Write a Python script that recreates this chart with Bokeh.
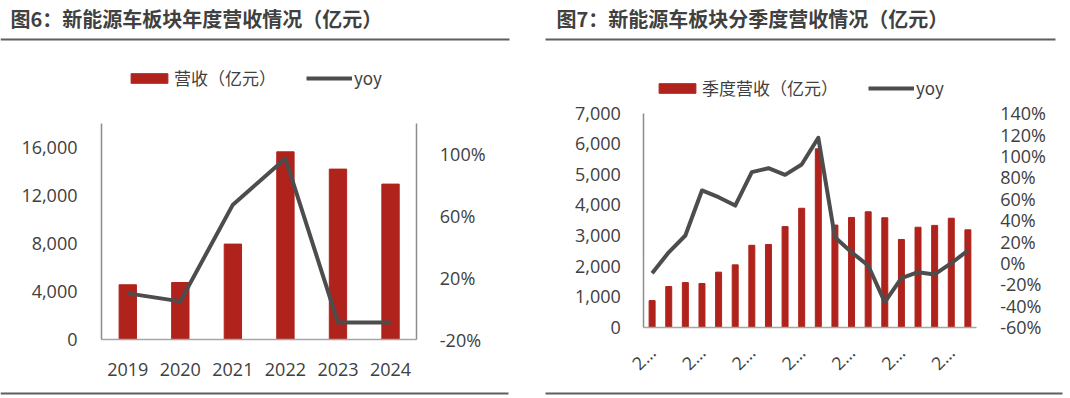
import math
from bokeh.plotting import figure
from bokeh.models import (Range1d, LinearAxis, FixedTicker, NumeralTickFormatter,
                          PrintfTickFormatter, Legend, LegendItem, Label, BoxAnnotation)
from bokeh.embed import file_html
from bokeh.resources import INLINE

# ---------------- data ----------------
years = ["2019", "2020", "2021", "2022", "2023", "2024"]
annual_revenue = [4560, 4750, 7950, 15640, 14200, 12950]          # 亿元
annual_yoy = [9.9, 4.7, 67.4, 97.3, -9.0, -9.0]                   # %

quarters = ["2020Q2", "2020Q3", "2020Q4", "2021Q1", "2021Q2", "2021Q3", "2021Q4",
            "2022Q1", "2022Q2", "2022Q3", "2022Q4", "2023Q1", "2023Q2", "2023Q3",
            "2023Q4", "2024Q1", "2024Q2", "2024Q3", "2024Q4", "2025Q1"]
quarterly_revenue = [870, 1330, 1460, 1430, 1800, 2040, 2680, 2705, 3290, 3890,
                     5835, 3340, 3590, 3775, 3580, 2870, 3270, 3330, 3565, 3185]
quarterly_yoy = [-9.5, 10.0, 25.7, 67.8, 61.5, 53.7, 84.9, 88.6, 82.4, 92.0,
                 117.0, 24.1, 10.0, -2.3, -36.6, -14.2, -8.6, -10.7, -0.2, 11.7]
quarter_tick_text = "2…"

annual_left_ticks = [0, 4000, 8000, 12000, 16000]
annual_right_ticks = [-20, 20, 60, 100]
quarterly_left_ticks = [0, 1000, 2000, 3000, 4000, 5000, 6000, 7000]
quarterly_right_ticks = [-60, -40, -20, 0, 20, 40, 60, 80, 100, 120, 140]

title1 = "图6：新能源车板块年度营收情况（亿元）"
title2 = "图7：新能源车板块分季度营收情况（亿元）"
legend1 = ["营收（亿元）", "yoy"]
legend2 = ["季度营收（亿元）", "yoy"]

# ---------------- style / layout ----------------
W, H = 1070, 398
BAR = "#AF231C"
LINE = "#4D4D4D"
TXT = "#404040"
AX = "#8C8C8C"
RULE = "#5F5F5F"
NUM_FONT = "Open Sans"
CJK = "Noto Sans CJK SC"

# plot-area boxes in page pixels: (left, right, top, bottom)
BOX1 = (101.0, 416.3, 123.0, 339.0)
BOX2 = (643.3, 975.7, 112.7, 326.7)


def x_range_for(box, n):
    l, r = box[0], box[1]
    k = n / (r - l)
    lo = -0.5
    return Range1d(start=lo + (0 - l) * k, end=lo + (W - l) * k)


def y_range_for(box, vmin, vmax):
    t, b = box[2], box[3]
    k = (vmax - vmin) / (b - t)
    return Range1d(start=vmin + (b - H) * k, end=vmin + (b - 0) * k)


p = figure(width=W, height=H, x_range=Range1d(0, W), y_range=Range1d(H, 0),
           x_axis_location=None, y_axis_location=None, min_border=0,
           output_backend="svg", toolbar_location=None)
p.outline_line_color = None
p.grid.grid_line_color = None
p.background_fill_color = "white"
p.border_fill_color = "white"

p.extra_x_ranges = {"x1": x_range_for(BOX1, len(years)),
                    "x2": x_range_for(BOX2, len(quarters))}
p.extra_y_ranges = {"y1": y_range_for(BOX1, 0, 18000),
                    "y1r": y_range_for(BOX1, -20, 120),
                    "y2": y_range_for(BOX2, 0, 7000),
                    "y2r": y_range_for(BOX2, -60, 140)}


def style_axis(ax, standoff, size="18px"):
    ax.major_label_text_font = NUM_FONT
    ax.major_label_text_font_size = size
    ax.major_label_text_color = TXT
    ax.major_tick_line_color = None
    ax.minor_tick_line_color = None
    ax.major_tick_out = 0
    ax.major_tick_in = 0
    ax.minor_tick_out = 0
    ax.axis_line_color = AX
    ax.axis_line_width = 1.5
    ax.major_label_standoff = standoff


# ---------------- panel 1 ----------------
x1 = list(range(len(years)))
b1 = p.vbar(x=x1, top=annual_revenue, width=0.33, color=BAR,
            x_range_name="x1", y_range_name="y1")
l1 = p.line(x=x1, y=annual_yoy, line_color=LINE, line_width=4, line_join="round",
            x_range_name="x1", y_range_name="y1r")

a = LinearAxis(x_range_name="x1", y_range_name="y1", fixed_location=-0.5, bounds=(0, 18000),
               ticker=FixedTicker(ticks=annual_left_ticks),
               formatter=NumeralTickFormatter(format="0,0"))
style_axis(a, 24)
p.add_layout(a, "left")
a = LinearAxis(x_range_name="x1", y_range_name="y1r", fixed_location=len(years) - 0.5,
               bounds=(-20, 120), ticker=FixedTicker(ticks=annual_right_ticks),
               formatter=PrintfTickFormatter(format="%d%%"))
style_axis(a, 23)
p.add_layout(a, "right")
a = LinearAxis(x_range_name="x1", y_range_name="y1", fixed_location=0,
               bounds=(-0.5, len(years) - 0.5), ticker=FixedTicker(ticks=x1),
               major_label_overrides={i: y for i, y in enumerate(years)})
style_axis(a, 23)
a.axis_line_color = "#A6A6A6"
p.add_layout(a, "below")

# ---------------- panel 2 ----------------
x2 = list(range(len(quarters)))
b2 = p.vbar(x=x2, top=quarterly_revenue, width=0.36, color=BAR,
            x_range_name="x2", y_range_name="y2")
l2 = p.line(x=x2, y=quarterly_yoy, line_color=LINE, line_width=4, line_join="round",
            x_range_name="x2", y_range_name="y2r")

a = LinearAxis(x_range_name="x2", y_range_name="y2", fixed_location=-0.5, bounds=(0, 7000),
               ticker=FixedTicker(ticks=quarterly_left_ticks),
               formatter=NumeralTickFormatter(format="0,0"))
style_axis(a, 23)
p.add_layout(a, "left")
a = LinearAxis(x_range_name="x2", y_range_name="y2r", fixed_location=len(quarters) - 0.5,
               bounds=(-60, 140), ticker=FixedTicker(ticks=quarterly_right_ticks),
               formatter=PrintfTickFormatter(format="%d%%"))
style_axis(a, 24)
a.axis_line_color = None
p.add_layout(a, "right")
qticks = x2[::3]
a = LinearAxis(x_range_name="x2", y_range_name="y2", fixed_location=0,
               bounds=(-0.5, len(quarters) - 0.5), ticker=FixedTicker(ticks=qticks),
               major_label_overrides={i: quarter_tick_text for i in qticks})
style_axis(a, 22)
a.axis_line_color = "#A6A6A6"
a.major_label_orientation = math.pi / 4
p.add_layout(a, "below")

# ---------------- legends ----------------
leg_kw = dict(orientation="horizontal", padding=0, margin=0, spacing=30,
              glyph_width=46, glyph_height=12, label_height=20, label_standoff=2,
              label_text_font=CJK, label_text_font_size="17px", label_text_color=TXT,
              border_line_color=None, background_fill_alpha=0)
p.add_layout(Legend(items=[LegendItem(label=legend1[0], renderers=[b1]),
                           LegendItem(label=legend1[1], renderers=[l1])],
                    location=(126, H - 90), **leg_kw))
p.add_layout(Legend(items=[LegendItem(label=legend2[0], renderers=[b2]),
                           LegendItem(label=legend2[1], renderers=[l2])],
                    location=(654, H - 100), **leg_kw))

# ---------------- titles and rules ----------------
for tx, tt in ((10, title1), (556, title2)):
    p.add_layout(Label(x=tx, y=18, text=tt, text_font=CJK, text_font_style="bold",
                       text_font_size="20px", text_color=TXT, text_baseline="middle"))
for l, r, y in ((0, 509, 39), (545, 1055, 39), (0, 508, 393), (545, 1062, 393)):
    p.add_layout(BoxAnnotation(left=l, right=r, top=y - 1, bottom=y + 1,
                               fill_color=RULE, fill_alpha=1, line_color=None))

open("out.html", "w").write(file_html(p, INLINE))
